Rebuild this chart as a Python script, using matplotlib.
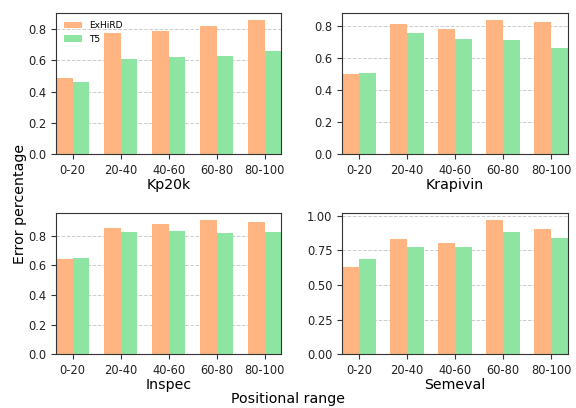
import numpy as np
import matplotlib
matplotlib.use("Agg")
import matplotlib.pyplot as plt

ranges = ["0-20", "20-40", "40-60", "60-80", "80-100"]
datasets = ["Kp20k", "Krapivin", "Inspec", "Semeval"]

exhird = {
    "Kp20k":    [0.49, 0.775, 0.785, 0.817, 0.86],
    "Krapivin": [0.503, 0.817, 0.785, 0.842, 0.827],
    "Inspec":   [0.642, 0.856, 0.881, 0.908, 0.895],
    "Semeval":  [0.627, 0.831, 0.802, 0.971, 0.904],
}
t5 = {
    "Kp20k":    [0.459, 0.609, 0.624, 0.63, 0.662],
    "Krapivin": [0.51, 0.76, 0.723, 0.716, 0.664],
    "Inspec":   [0.649, 0.825, 0.834, 0.818, 0.829],
    "Semeval":  [0.687, 0.778, 0.778, 0.884, 0.839],
}

plt.rcParams["axes.edgecolor"] = "#333333"
plt.rcParams["xtick.color"] = "#333333"
plt.rcParams["ytick.color"] = "#333333"
plt.rcParams["xtick.labelcolor"] = "#222222"
plt.rcParams["ytick.labelcolor"] = "#222222"

fig, axes = plt.subplots(2, 2, figsize=(5.76, 4.08), dpi=100)
fig.subplots_adjust(left=0.097, right=0.986, top=0.968, bottom=0.132,
                    wspace=0.27, hspace=0.42)

x = np.arange(len(ranges))
w = 0.35
for ax, name in zip(axes.flat, datasets):
    ax.bar(x - w / 2, exhird[name], w, color="#ffb482", linewidth=0, label="ExHiRD")
    ax.bar(x + w / 2, t5[name], w, color="#8de5a1", linewidth=0, label="T5")
    ax.set_xlim(-w, len(ranges) - 1 + w)
    ax.set_xticks(x)
    ax.set_xticklabels(ranges)
    ax.tick_params(labelsize=8.3)
    ax.set_xlabel(name, fontsize=10.2, labelpad=1)
    ax.set_axisbelow(True)
    ax.yaxis.grid(True, linestyle="--", color="#cccccc", linewidth=0.7)

axes[1, 1].set_yticks([0, 0.25, 0.5, 0.75, 1.0])
axes[0, 0].legend(loc="upper left", frameon=False, fontsize=6.5)

fig.supylabel("Error percentage", fontsize=10.2, x=0.022)
fig.supxlabel("Positional range", fontsize=10.2, y=0.005)

fig.savefig("out.png", dpi=100)
